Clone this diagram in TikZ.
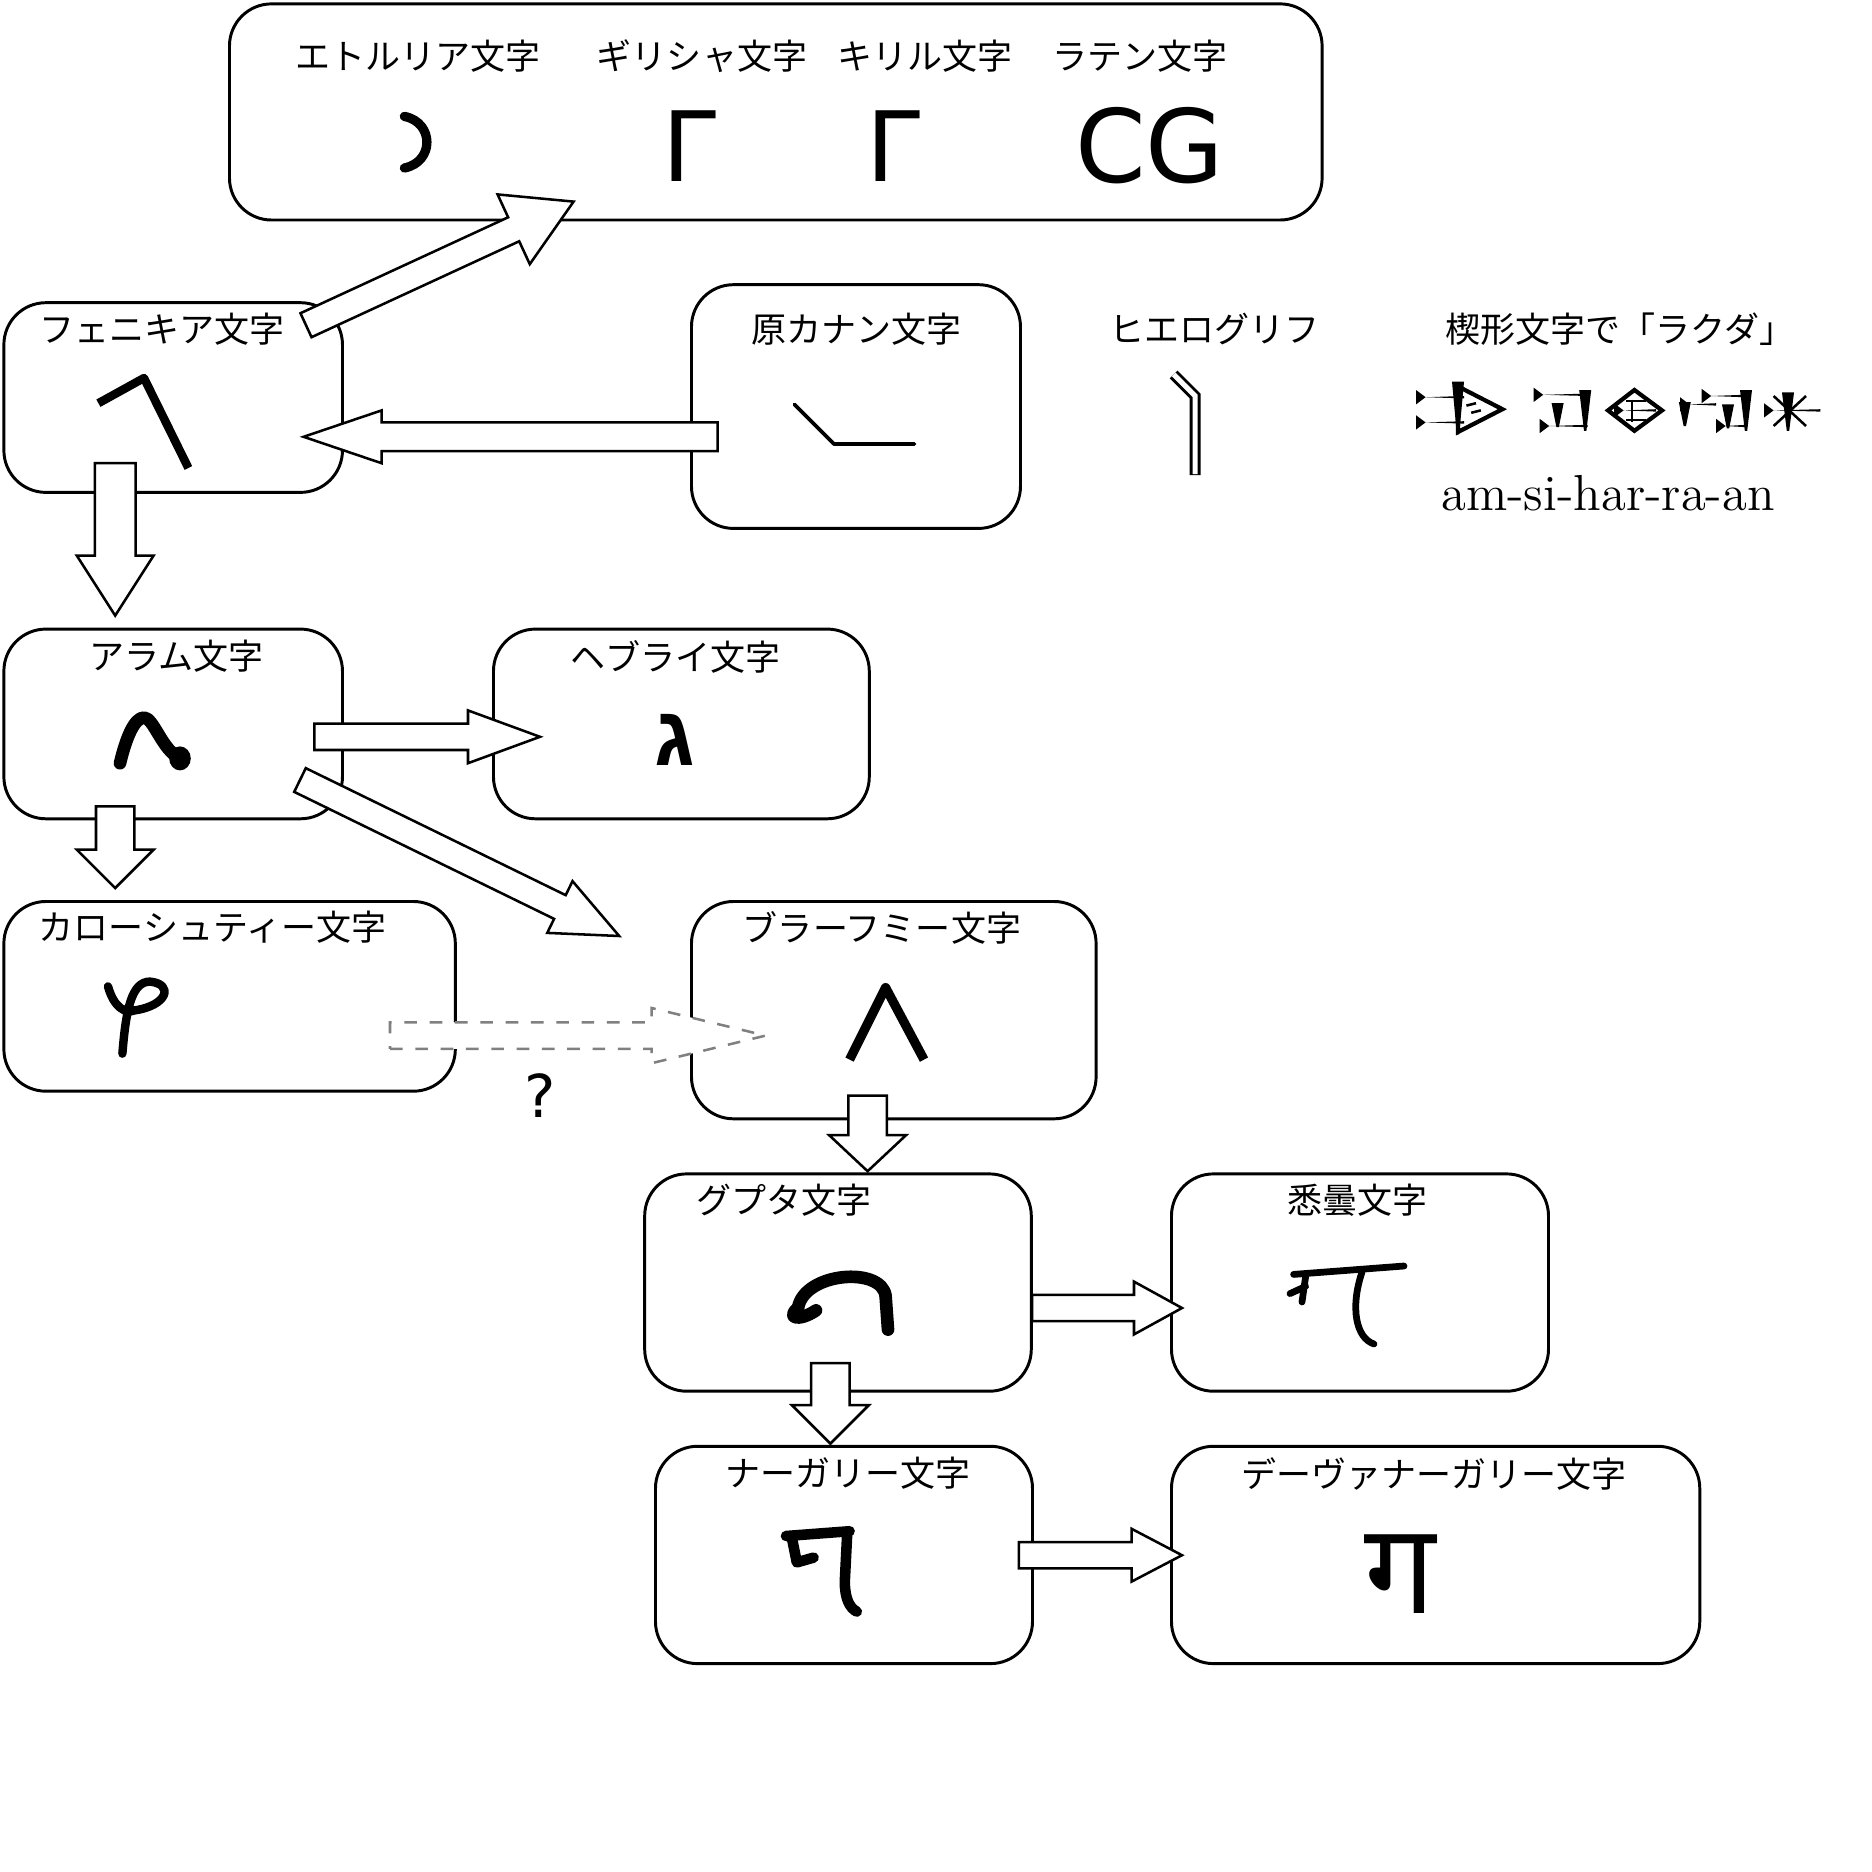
\documentclass[tikz,border=0pt]{standalone}
\usepackage{fontspec}
\newfontfamily\jp{Noto Sans CJK JP}
\newfontfamily\dvs{DejaVu Sans}
\newfontfamily\heb[Script=Hebrew]{Liberation Sans}
\newfontfamily\deva[Script=Devanagari]{Noto Sans}
\TeXXeTstate=1
\newcommand{\blockarrow}[8]{%
 \pgfmathsetmacro\bal{veclen(#4-#2,#5-#3)}%
 \pgfmathsetmacro\baa{atan2(-(#5-#3),#4-#2)}%
 \pgfmathsetmacro\bab{\bal-#8}%
 \draw[#1,shift={(#2,#3)},rotate=\baa] (0,#6) -- (\bab,#6) -- (\bab,#7) -- (\bal,0) -- (\bab,-#7) -- (\bab,-#6) -- (0,-#6) -- cycle;}
\newcommand{\wH}[3]{\fill (#1,#2-6) -- (#1+8,#2) -- (#1+#3,#2+1) -- (#1+#3,#2-1) -- (#1+8,#2) -- (#1,#2+6) -- cycle;}
\newcommand{\wV}[3]{\fill (#1-5,#2) -- (#1+5,#2) -- (#1+1,#2+#3) -- (#1-1,#2+#3) -- cycle;}
\tikzset{
 box/.style={draw,line width=0.7pt,rounded corners=0.35cm,anchor=north west,inner sep=0},
 lab/.style={font=\jp\fontsize{8.3}{9}\selectfont,inner sep=0},
 barr/.style={draw,fill=white,line width=0.6pt},
 garr/.style={draw=gray,dashed,fill=white,line width=0.6pt},
 glyph/.style={line width=#1,line cap=round,line join=round},
}
\begin{document}
\begin{tikzpicture}[x=0.01cm,y=-0.01cm]
\useasboundingbox (0,0) rectangle (1560,1560);
\fill[white] (0,0) rectangle (1560,1560);
% boxes
\node[box,minimum width=9.1cm,minimum height=1.8cm] (top) at (190,2) {};
\node[box,minimum width=2.82cm,minimum height=1.58cm] (phoe) at (2,251) {};
\node[box,minimum width=2.74cm,minimum height=2.03cm] (proto) at (575,236) {};
\node[box,minimum width=2.82cm,minimum height=1.58cm] (aram) at (2,523) {};
\node[box,minimum width=3.13cm,minimum height=1.58cm] (hebr) at (410,523) {};
\node[box,minimum width=3.76cm,minimum height=1.58cm] (khar) at (2,750) {};
\node[box,minimum width=3.37cm,minimum height=1.81cm] (brah) at (575,750) {};
\node[box,minimum width=3.22cm,minimum height=1.81cm] (gupt) at (536,977) {};
\node[box,minimum width=3.14cm,minimum height=1.81cm] (sidd) at (975,977) {};
\node[box,minimum width=3.14cm,minimum height=1.81cm] (naga) at (545,1204) {};
\node[box,minimum width=4.40cm,minimum height=1.81cm] (deva) at (975,1204) {};
% labels
\node[lab] (l1) at (348,47) {エトルリア文字};
\node[lab] (l2) at (585,47) {ギリシャ文字};
\node[lab] (l3) at (771,47) {キリル文字};
\node[lab] (l4) at (950,47) {ラテン文字};
\node[lab] (l5) at (135,274) {フェニキア文字};
\node[lab] (l6) at (714,274) {原カナン文字};
\node[lab] (l7) at (1012,274) {ヒエログリフ};
\node[lab] (l8) at (1350,274) {楔形文字で「ラクダ」};
\node[lab] (l9) at (147,547) {アラム文字};
\node[lab] (l10) at (563,547) {ヘブライ文字};
\node[lab] (l11) at (177,773) {カローシュティー文字};
\node[lab] (l12) at (735,773) {ブラーフミー文字};
\node[lab] (l13) at (653,1000) {グプタ文字};
\node[lab] (l14) at (1131,1000) {悉曇文字};
\node[lab] (l15) at (707,1228) {ナーガリー文字};
\node[lab] (l16) at (1195,1228) {デーヴァナーガリー文字};
\node[inner sep=0,font=\dvs\fontsize{14}{14}\selectfont] (q) at (450,913) {?};
\node[inner sep=0,font=\fontsize{12}{12}\selectfont] (tr) at (1340,411) {am-si-har-ra-an};
% top glyphs
\draw[glyph=2.2pt] (337,97) .. controls (362,102) and (362,135) .. (337,140);
\node[inner sep=0,font=\dvs\fontsize{23}{23}\selectfont] (g1) at (575,122) {Γ};
\node[inner sep=0,font=\dvs\fontsize{23}{23}\selectfont] (g2) at (745,122) {Γ};
\node[inner sep=0,font=\dvs\fontsize{24}{24}\selectfont] (g3) at (958,121) {CG};
% phoenician
\draw[glyph=2pt,line cap=butt] (82,336) -- (120,315) -- (157,390);
% proto-canaanite
\draw[glyph=0.9pt] (662,337) -- (695,370) -- (762,370);
% hieroglyph
\draw[line width=2.6pt] (978,312) -- (996,330) -- (996,396);
\draw[white,line width=1.2pt] (978,312) -- (996,330) -- (996,395);
% cuneiform
\wH{1180}{331}{40} \wH{1180}{352}{40}
\draw[line width=1pt] (1215,322) -- (1252,341) -- (1215,360) -- cycle;
\wV{1215}{318}{44}
\draw[line width=0.6pt] (1222,338) -- (1230,336) (1226,344) -- (1234,342);
\wH{1278}{329}{45} \wV{1321}{325}{34} \wV{1298}{336}{20} \wH{1283}{355}{40}
\draw[line width=1pt] (1340,342) -- (1362,325) -- (1385,342) -- (1362,359) -- cycle;
\wH{1345}{342}{35} \draw[line width=0.6pt] (1355,334) -- (1372,334) (1355,350) -- (1372,350) (1360,333) -- (1360,352);
\wH{1400}{337}{30} \wV{1404}{335}{20} \wH{1418}{330}{35} \wV{1455}{325}{34} \wH{1430}{355}{25} \wV{1440}{337}{20}
\wH{1470}{342}{47} \wV{1490}{327}{32}
\draw[line width=0.6pt] (1478,330) -- (1505,355) (1478,355) -- (1505,330);
% aramaic
\draw[glyph=3pt] (100,636) .. controls (105,615) and (112,598) .. (120,598) .. controls (128,598) and (135,625) .. (150,632);
\fill (150,632) ellipse (9 and 10);
% hebrew
\node[inner sep=0,font=\heb\bfseries\fontsize{20}{20}\selectfont] (hg) at (562,617) {\beginR ג\endR};
% kharosthi
\draw[glyph=2pt] (90,822) .. controls (95,840) and (105,845) .. (112,842) .. controls (140,838) and (145,820) .. (125,818) .. controls (110,818) and (105,840) .. (102,878);
% brahmi
\draw[glyph=2.2pt,line cap=butt] (708,883) -- (738,823) -- (770,883);
% gupta
\draw[glyph=3pt] (665,1090) .. controls (670,1060) and (735,1055) .. (738,1080) -- (740,1108);
\draw[glyph=3pt] (665,1090) .. controls (655,1098) and (665,1102) .. (680,1092);
% siddham
\draw[glyph=1.6pt] (1078,1062) -- (1170,1055);
\draw[glyph=1.6pt] (1088,1064) -- (1085,1085) (1075,1078) -- (1088,1072);
\draw[glyph=1.6pt] (1135,1060) .. controls (1125,1090) and (1130,1115) .. (1145,1120);
% nagari
\draw[glyph=2.5pt] (655,1280) -- (708,1276);
\draw[glyph=2.5pt] (660,1282) -- (664,1302) -- (678,1298);
\draw[glyph=2.5pt] (706,1278) -- (704,1318) .. controls (704,1332) and (708,1340) .. (714,1343);
% devanagari
\node[inner sep=0,font=\deva\bfseries\fontsize{30}{30}\selectfont] (dg) at (1167,1312) {ग};
% arrows
\blockarrow{barr}{255}{271}{478}{168}{11}{32}{55}
\blockarrow{barr}{598}{364}{253}{364}{12}{22}{65}
\blockarrow{barr}{96}{386}{96}{513}{17}{32}{50}
\blockarrow{barr}{262}{614}{450}{614}{11}{22}{60}
\blockarrow{barr}{250}{650}{516}{780}{11}{24}{55}
\blockarrow{barr}{96}{672}{96}{740}{16}{32}{32}
\blockarrow{garr}{325}{863}{638}{863}{11}{23}{95}
\blockarrow{barr}{723}{913}{723}{976}{16}{32}{30}
\blockarrow{barr}{860}{1090}{985}{1090}{11}{22}{40}
\blockarrow{barr}{692}{1136}{692}{1203}{16}{32}{32}
\blockarrow{barr}{849}{1296}{985}{1296}{11}{22}{42}
\end{tikzpicture}
\end{document}
